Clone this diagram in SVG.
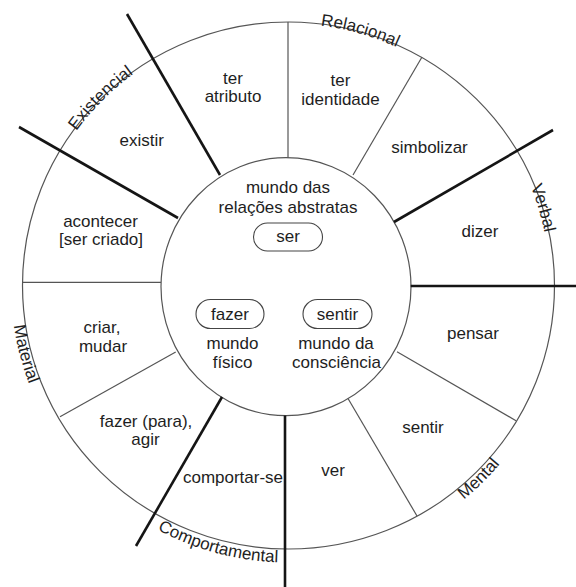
<svg xmlns="http://www.w3.org/2000/svg" xmlns:xlink="http://www.w3.org/1999/xlink" width="576" height="587" viewBox="0 0 576 587">
<style>
text{font-family:"Liberation Sans",Arial,sans-serif;font-size:17px;fill:#1e1e1e;text-anchor:middle}
.ring{fill:none;stroke:#555;stroke-width:1.2}
.thin{stroke:#555;stroke-width:1.2;fill:none}
.thick{stroke:#151515;stroke-width:2.6;fill:none}
.pill{fill:#fff;stroke:#444;stroke-width:1.1}
</style>
<defs>
<path id="cw" d="M 26,285.5 A 262,262 0 0 1 550,285.5 A 262,262 0 0 1 26,285.5"/>
<path id="ccw" d="M 11,285.5 A 277,277 0 0 0 565,285.5 A 277,277 0 0 0 11,285.5"/>
</defs>
<rect width="576" height="587" fill="#fff"/>
<g id="rings">
<ellipse class="ring" cx="288.5" cy="285.5" rx="266" ry="263.5"/>
<ellipse class="ring" cx="286" cy="286.7" rx="125" ry="129"/>
</g>
<g id="connectors">
<line class="thin" x1="288" y1="22" x2="288" y2="157.7"/>
<line class="thin" x1="353" y1="175" x2="422" y2="57"/>
<line class="thick" x1="394" y1="222" x2="553" y2="130"/>
<line class="thick" x1="410.7" y1="286" x2="576" y2="286"/>
<line class="thin" x1="397" y1="351.7" x2="516" y2="420.7"/>
<line class="thin" x1="348" y1="398.5" x2="417" y2="516"/>
<line class="thick" x1="285" y1="415.5" x2="285" y2="587"/>
<line class="thick" x1="222" y1="397" x2="136" y2="546"/>
<line class="thin" x1="175.7" y1="352" x2="60" y2="416.7"/>
<line class="thin" x1="22.7" y1="282.3" x2="161" y2="282.3"/>
<line class="thick" x1="178" y1="218" x2="19" y2="127"/>
<line class="thick" x1="220" y1="175" x2="127" y2="14"/>
</g>
<g id="category-labels">
<text><textPath xlink:href="#cw" href="#cw" startOffset="12.5%">Existencial</textPath></text>
<text><textPath xlink:href="#cw" href="#cw" startOffset="29.4%">Relacional</textPath></text>
<text><textPath xlink:href="#cw" href="#cw" startOffset="45.3%">Verbal</textPath></text>
<text><textPath xlink:href="#ccw" href="#ccw" startOffset="4.05%">Material</textPath></text>
<text><textPath xlink:href="#ccw" href="#ccw" startOffset="20.8%">Comportamental</textPath></text>
<text><textPath xlink:href="#ccw" href="#ccw" startOffset="37.4%">Mental</textPath></text>
</g>
<g id="s-ter-atributo"><text x="233" y="83.5">ter</text><text x="233" y="102">atributo</text></g>
<g id="s-ter-identidade"><text x="340.5" y="86">ter</text><text x="340.5" y="104.5">identidade</text></g>
<g id="s-simbolizar"><text x="429.5" y="153">simbolizar</text></g>
<g id="s-dizer"><text x="480" y="236.5">dizer</text></g>
<g id="s-pensar"><text x="473" y="339">pensar</text></g>
<g id="s-sentir"><text x="423" y="433">sentir</text></g>
<g id="s-ver"><text x="333" y="476">ver</text></g>
<g id="s-comportar-se"><text x="233" y="482.5">comportar-se</text></g>
<g id="s-fazer-agir"><text x="146" y="426.5">fazer (para),</text><text x="145.5" y="445">agir</text></g>
<g id="s-criar-mudar"><text x="102" y="333">criar,</text><text x="103" y="351.5">mudar</text></g>
<g id="s-acontecer"><text x="100.5" y="226.5">acontecer</text><text x="101" y="245">[ser criado]</text></g>
<g id="s-existir"><text x="141.7" y="145.5">existir</text></g>
<g id="center-abstratas"><text x="288" y="193">mundo das</text><text x="288" y="212.5">relações abstratas</text></g>
<g id="pill-ser"><rect class="pill" x="253.5" y="223" width="69" height="28" rx="14"/><text x="288" y="241.5">ser</text></g>
<g id="pill-fazer"><rect class="pill" x="196" y="299.5" width="68" height="29" rx="14.5"/><text x="230" y="320">fazer</text></g>
<g id="pill-sentir"><rect class="pill" x="303" y="299.5" width="69" height="29" rx="14.5"/><text x="337.5" y="320">sentir</text></g>
<g id="center-fisico"><text x="232.5" y="349">mundo</text><text x="232.5" y="368">físico</text></g>
<g id="center-consciencia"><text x="336" y="349">mundo da</text><text x="336.5" y="368">consciência</text></g>
</svg>
